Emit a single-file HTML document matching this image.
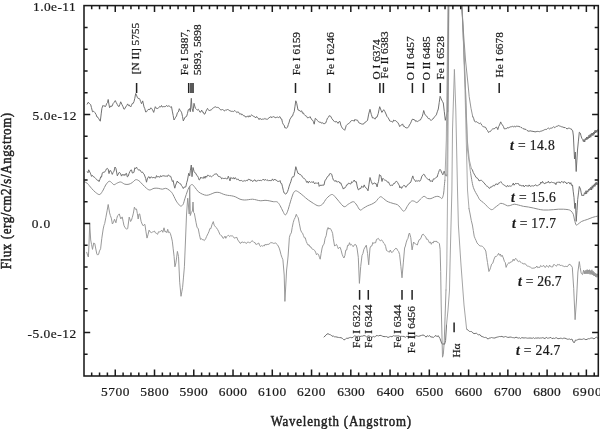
<!DOCTYPE html>
<html><head><meta charset="utf-8"><style>
html,body{margin:0;padding:0;background:#fff;}
svg{display:block;will-change:transform;filter:blur(0.35px);}
text{font-family:"Liberation Serif",serif;fill:#1a1a1a;stroke:#1a1a1a;stroke-width:0.22px;}
text.b{stroke-width:0.5px;fill:#222;stroke:#222;}
</style></head><body>
<svg width="600" height="429" viewBox="0 0 600 429">
<defs><filter id="bl" x="-5%" y="-5%" width="110%" height="110%"><feGaussianBlur stdDeviation="0.3"/></filter><clipPath id="c"><rect x="84" y="5.6" width="514.3" height="370.4"/></clipPath></defs>
<g clip-path="url(#c)"><g filter="url(#bl)" fill="none" stroke-linejoin="round" stroke-linecap="round">
<path d="M84.0,181.7C84.5,182.0 86.0,182.2 87.3,183.3C88.5,184.4 90.1,186.8 91.5,188.3C92.9,189.8 94.3,191.5 95.7,192.5C97.1,193.5 98.5,194.9 99.8,194.5C101.0,194.1 102.2,191.6 103.2,190.0C104.2,188.4 104.7,186.4 105.7,185.0C106.7,183.6 108.0,181.7 109.0,181.3C110.0,180.9 110.7,181.9 111.5,182.5C112.3,183.1 113.0,184.6 114.0,184.7C115.0,184.8 116.2,183.4 117.3,183.0C118.4,182.6 119.5,181.8 120.7,182.0C122.0,182.2 123.4,183.8 124.8,184.2C126.2,184.6 127.8,184.5 129.0,184.2C130.2,183.9 131.2,183.2 132.3,182.5C133.4,181.8 134.6,180.0 135.7,179.7C136.8,179.4 137.9,180.1 139.0,180.8C140.1,181.6 141.1,182.9 142.3,184.2C143.6,185.4 145.2,187.3 146.5,188.3C147.8,189.3 148.6,190.0 149.8,190.0C151.1,190.0 152.6,188.6 154.0,188.3C155.4,188.0 156.8,188.2 158.2,188.3C159.6,188.5 161.1,189.2 162.3,189.2C163.6,189.2 164.6,188.2 165.7,188.3C166.8,188.4 167.9,189.2 169.0,190.0C170.1,190.8 171.2,191.6 172.3,193.3C173.4,195.0 174.8,198.3 175.7,200.0C176.6,201.7 177.2,202.5 178.0,203.5C178.8,204.5 179.7,205.8 180.5,206.0C181.3,206.2 182.2,205.8 183.0,204.5C183.8,203.2 184.2,200.6 185.0,198.3C185.8,196.0 186.7,192.9 187.5,190.8C188.3,188.7 189.2,186.8 190.0,185.8C190.8,184.8 191.7,184.4 192.5,184.7C193.3,185.0 194.0,186.3 195.0,187.5C196.0,188.7 197.1,190.6 198.3,191.7C199.6,192.8 201.1,193.6 202.5,194.2C203.9,194.8 205.3,195.3 206.7,195.3C208.1,195.3 209.4,194.7 210.8,194.2C212.2,193.7 213.6,192.8 215.0,192.5C216.4,192.2 217.8,192.2 219.2,192.5C220.6,192.8 221.9,193.7 223.3,194.2C224.7,194.7 226.1,195.0 227.5,195.3C228.9,195.6 230.3,195.5 231.7,195.8C233.1,196.1 234.4,196.4 235.8,197.0C237.2,197.6 238.6,198.7 240.0,199.2C241.4,199.7 242.8,199.9 244.2,200.0C245.6,200.1 246.9,199.8 248.3,199.7C249.7,199.6 251.1,199.1 252.5,199.2C253.9,199.2 255.3,199.7 256.7,200.0C258.1,200.3 259.4,200.8 260.8,200.8C262.2,200.9 263.6,200.3 265.0,200.3C266.4,200.3 267.8,200.6 269.2,200.8C270.6,201.0 271.9,201.5 273.3,201.7C274.7,201.9 276.2,201.3 277.3,202.0C278.4,202.7 279.2,204.1 280.1,205.6C281.0,207.1 282.0,209.6 282.9,211.2C283.8,212.8 284.5,214.9 285.3,214.9C286.1,214.9 286.8,213.4 287.6,211.2C288.5,209.0 289.4,204.9 290.4,201.9C291.3,198.9 292.4,195.2 293.3,193.3C294.2,191.5 294.8,190.9 295.8,190.8C296.8,190.7 297.9,191.7 299.2,192.5C300.4,193.3 301.8,194.6 303.3,195.8C304.8,197.1 306.6,198.8 308.3,200.0C310.0,201.2 311.6,202.3 313.3,203.3C315.0,204.3 316.8,205.7 318.3,205.8C319.8,206.0 321.1,205.4 322.5,204.2C323.9,202.9 325.2,199.9 326.7,198.3C328.2,196.7 330.3,194.8 331.7,194.5C333.1,194.2 333.8,195.5 335.0,196.7C336.2,197.9 337.7,200.0 339.2,201.7C340.7,203.4 342.7,206.3 344.2,206.7C345.7,207.1 346.8,205.0 348.3,204.2C349.8,203.4 351.9,201.6 353.3,201.7C354.7,201.8 355.6,203.6 356.7,205.0C357.8,206.4 358.9,209.4 360.0,210.0C361.1,210.6 362.1,209.0 363.3,208.3C364.6,207.6 366.1,206.5 367.5,205.8C368.9,205.1 370.3,204.9 371.7,204.2C373.1,203.5 374.8,202.5 375.8,201.7C376.8,200.8 377.0,199.9 377.8,199.1C378.6,198.3 379.7,196.8 380.6,196.7C381.5,196.6 382.3,197.7 383.4,198.4C384.4,199.2 385.7,200.5 386.9,201.2C388.1,201.9 389.2,202.2 390.4,202.6C391.6,203.0 392.7,203.3 393.9,203.7C395.1,204.0 396.3,204.1 397.4,204.7C398.4,205.3 399.3,206.4 400.2,207.4C401.1,208.4 402.2,210.4 403.0,210.9C403.8,211.4 404.3,211.1 405.1,210.2C405.9,209.3 406.8,206.8 407.9,205.3C408.9,203.8 410.3,201.9 411.4,201.2C412.4,200.5 413.3,201.0 414.2,201.2C415.1,201.4 415.9,202.9 417.0,202.6C418.1,202.2 419.3,200.1 420.5,199.1C421.7,198.1 422.9,196.4 424.0,196.3C425.1,196.2 426.2,198.0 427.4,198.4C428.5,198.8 429.7,198.8 430.9,198.6C432.1,198.4 433.2,197.4 434.4,197.0C435.6,196.6 436.8,196.2 437.9,196.3C438.9,196.4 440.0,197.3 440.7,197.7C441.4,198.0 441.6,199.0 442.1,198.4C442.6,197.8 443.1,196.1 443.5,194.2C443.9,192.3 444.0,189.5 444.2,187.2C444.4,184.9 444.8,181.4 444.9,180.2M470.5,172.4C471.0,174.9 472.1,183.3 473.3,187.3C474.6,191.3 476.9,194.5 478.0,196.6C479.1,198.7 479.1,199.0 480.0,200.0C480.9,201.0 482.1,201.4 483.3,202.5C484.6,203.6 486.1,205.5 487.5,206.7C488.9,207.9 490.4,209.6 491.7,209.7C492.9,209.8 493.9,208.3 495.0,207.5C496.1,206.7 497.3,205.7 498.3,205.0C499.3,204.3 499.8,203.4 500.8,203.3C501.8,203.2 503.1,203.8 504.2,204.2C505.3,204.6 506.4,205.6 507.5,205.8C508.6,206.0 509.7,205.6 510.8,205.3C511.9,205.0 513.0,204.2 514.2,204.2C515.5,204.1 516.8,204.7 518.3,205.0C519.8,205.3 521.6,206.0 523.3,206.3C525.0,206.6 526.6,206.7 528.3,207.0C530.0,207.3 531.6,207.6 533.3,208.0C535.0,208.4 536.6,208.9 538.3,209.2C540.0,209.5 541.6,209.9 543.3,210.0C545.0,210.1 546.6,210.1 548.3,210.0C550.0,209.9 551.6,209.8 553.3,209.7C555.0,209.6 556.6,209.3 558.3,209.2C560.0,209.1 561.6,209.1 563.3,209.2C565.0,209.3 567.0,209.4 568.3,209.7C569.5,210.0 570.0,210.1 570.8,210.8C571.6,211.6 572.7,212.7 573.3,214.2C573.9,215.7 574.0,218.2 574.5,220.0C575.0,221.8 575.6,224.3 576.2,225.0C576.8,225.7 577.2,224.7 578.1,224.1C579.0,223.5 580.2,222.2 581.7,221.4C583.2,220.6 585.4,220.2 587.2,219.5C589.1,218.8 591.1,217.9 592.8,217.3C594.5,216.8 596.5,216.4 597.3,216.2" stroke="#8c8c8c" stroke-width="1.0"/>
<polyline points="86.7,252.3 87.8,255.9 88.4,257.0 89.0,244.0 89.7,224.0 90.7,240.0 91.6,244.7 92.5,249.4 93.7,243.0 94.8,243.6 96.0,250.0 96.8,253.9 97.7,255.1 98.6,254.2 99.5,250.9 100.6,248.8 101.8,238.3 103.2,229.0 104.0,225.3 104.7,223.5 105.9,217.3 107.1,210.8 108.2,204.5 109.6,212.9 110.4,215.6 111.3,218.1 112.4,224.0 113.5,222.2 114.5,219.2 115.9,222.8 116.8,218.4 117.6,215.7 118.4,215.1 119.3,213.9 120.0,216.4 120.8,218.9 122.2,216.9 123.1,221.2 123.9,225.2 125.0,227.7 126.0,228.6 126.8,229.1 127.7,228.6 129.2,217.1 130.6,221.5 131.4,220.3 132.3,217.4 133.4,213.1 134.4,207.1 135.4,209.3 136.5,209.0 137.3,213.3 138.2,219.0 138.9,214.2 139.7,213.9 141.1,221.3 142.1,224.0 143.2,225.8 144.1,224.7 144.9,224.4 145.9,231.2 147.0,238.1 148.1,234.3 149.1,230.1 150.3,232.1 151.6,232.6 152.5,232.0 153.5,231.6 154.4,231.0 155.4,232.8 156.5,233.3 157.5,234.4 158.6,231.7 159.6,231.9 160.6,231.5 161.7,230.1 162.8,232.3 164.0,227.8 165.1,232.0 166.0,231.3 166.8,232.7 167.7,229.3 168.6,232.6 169.4,232.0 170.3,233.4 171.3,236.8 172.3,241.2 173.2,248.8 174.1,256.5 174.9,266.8 175.9,262.9 176.7,257.1 177.4,251.4 178.5,256.5 179.7,282.2 181.0,296.3 181.8,291.8 182.6,287.3 183.5,277.1 184.4,266.8 185.5,240.0 186.5,215.0 187.7,198.2 188.5,206.0 189.2,214.0 189.7,186.0 190.3,215.5 191.3,212.5 192.4,211.0 193.0,202.0 193.6,212.5 194.3,213.1 195.2,217.9 196.0,222.3 197.1,227.6 198.2,228.4 199.3,234.2 200.5,239.4 201.4,238.6 202.2,239.7 203.1,239.5 204.3,240.6 205.6,238.8 206.5,236.7 207.3,235.0 208.2,233.3 209.1,231.2 209.9,228.5 210.8,228.7 212.1,224.3 213.3,221.6 214.2,225.3 215.0,226.1 215.9,227.4 216.8,228.2 217.6,229.5 218.5,231.2 219.8,234.2 221.0,235.6 222.0,236.1 223.1,238.4 224.1,237.7 225.0,236.1 225.8,238.3 226.7,236.6 227.6,235.7 228.6,235.3 229.6,236.6 230.5,235.8 231.5,235.9 232.4,235.9 233.4,236.7 234.4,238.2 235.7,237.6 236.9,237.4 237.9,240.4 239.0,241.3 240.0,243.2 240.9,243.2 241.9,241.9 242.8,242.2 243.8,242.6 244.7,242.0 245.6,243.1 246.6,243.4 247.5,242.1 248.4,242.2 249.4,242.7 250.3,242.7 251.2,241.5 252.1,240.7 253.0,241.3 254.0,242.5 254.9,242.5 255.8,244.3 256.8,244.3 257.8,243.6 258.7,243.0 259.6,245.2 260.5,246.6 261.5,245.6 262.4,246.2 263.3,245.6 264.2,246.0 265.2,244.2 266.1,245.2 267.1,244.0 268.0,244.8 268.9,244.0 269.9,243.6 270.8,242.4 271.8,242.8 272.7,242.9 273.6,243.4 274.5,243.3 275.5,242.8 276.4,243.9 277.3,244.6 278.2,246.0 279.2,248.1 280.1,251.0 281.0,254.7 281.9,257.3 282.9,259.7 284.2,275.0 284.9,301.4 285.8,285.0 286.6,270.0 287.4,263.0 288.1,256.0 289.4,237.3 290.4,234.2 291.3,232.9 292.2,227.6 293.2,222.7 294.1,219.7 295.2,217.5 296.3,214.3 297.2,216.4 298.2,217.7 299.4,223.8 300.6,229.9 301.6,232.2 302.5,233.1 303.4,235.4 304.4,237.9 305.3,237.8 306.2,241.3 307.2,243.5 308.1,245.2 309.0,244.7 310.0,246.9 310.9,246.9 311.8,248.7 312.8,249.3 313.7,249.6 314.6,250.4 315.6,252.1 316.5,254.8 317.6,253.6 318.7,254.9 319.4,257.3 320.2,259.2 321.1,253.6 322.1,248.0 323.1,245.0 324.0,244.3 325.1,238.3 326.2,235.7 327.1,230.0 328.1,227.5 328.9,229.2 329.6,228.0 330.7,229.1 331.8,231.2 332.6,233.4 333.3,238.7 334.6,246.1 335.6,245.1 336.5,244.4 337.4,246.4 338.3,248.7 339.2,247.6 340.2,247.4 341.1,250.2 342.1,254.2 343.0,256.4 343.9,258.0 344.9,255.5 345.8,250.1 346.7,250.0 347.6,245.3 348.6,245.5 349.5,242.7 350.4,245.1 351.4,244.4 352.3,245.5 353.2,246.7 354.1,245.1 355.1,244.4 356.1,245.0 357.0,248.0 358.3,257.3 359.4,283.4 360.7,266.6 362.0,255.4 362.9,253.6 363.9,249.3 365.1,247.1 366.3,245.2 367.6,253.6 368.7,264.8 370.0,248.0 370.9,246.1 371.9,245.9 372.9,242.4 373.8,243.5 374.7,242.5 375.6,242.8 376.5,239.4 377.5,238.9 378.4,238.4 379.4,239.9 380.3,240.9 381.6,239.9 382.8,241.5 383.8,243.3 384.7,244.1 385.6,246.4 386.5,250.5 387.4,251.0 388.4,251.6 389.4,252.2 390.3,250.0 391.2,252.1 392.1,252.6 393.1,251.2 394.0,250.3 394.9,249.1 395.9,248.2 396.8,248.7 397.7,250.5 398.6,251.5 399.6,254.5 400.9,266.6 402.0,277.8 403.3,262.9 404.6,248.0 405.4,246.0 406.1,242.9 407.1,239.8 408.0,238.3 408.8,234.2 409.5,233.0 410.8,237.7 412.1,249.9 412.9,245.5 413.6,242.0 414.5,243.1 415.4,244.0 416.4,244.5 417.3,245.0 418.2,242.2 419.2,239.7 420.1,239.5 421.0,237.9 422.1,234.8 423.3,234.2 424.5,235.7 425.7,236.9 426.6,239.3 427.6,239.2 428.5,240.8 429.4,242.8 430.4,242.1 431.3,244.3 432.2,242.3 433.2,243.0 434.1,240.9 435.0,241.9 436.0,240.9 436.9,242.1 437.9,242.2 438.6,242.9 439.4,243.7 440.1,249.3 440.7,271.6 441.2,305.0 442.5,357.2 443.3,354.6 444.2,342.4 445.1,316.2 446.0,290.0" stroke="#939393" stroke-width="0.95"/>
<polyline points="469.0,208.6 470.1,214.0 471.3,220.6 472.4,225.0 473.3,230.6 474.2,236.2 475.1,238.5 476.1,240.6 477.0,242.9 478.0,244.1 478.9,244.9 479.8,245.9 480.7,246.0 481.6,246.1 482.6,246.5 483.5,247.4 484.6,249.0 485.8,251.0 486.6,256.8 487.5,262.6 488.9,271.5 489.7,270.1 490.5,267.8 491.6,264.1 492.8,263.2 494.0,259.2 495.2,256.5 496.3,256.4 497.5,255.3 498.6,253.3 499.5,255.3 500.4,254.0 501.2,256.5 502.1,255.2 503.3,257.9 504.5,261.7 505.3,262.6 506.1,267.4 507.1,264.9 508.0,263.5 508.9,262.7 509.8,263.2 510.6,261.9 511.5,261.8 512.4,261.4 513.2,259.2 514.1,260.8 515.0,259.0 515.9,258.4 516.8,259.6 517.6,261.1 518.5,261.6 519.4,260.8 520.2,261.9 521.1,262.4 522.0,263.4 522.9,263.1 523.8,264.3 524.8,263.5 525.7,264.1 526.6,265.6 527.5,266.1 528.5,266.0 529.4,266.9 530.4,267.1 531.3,267.9 532.2,268.3 533.1,268.0 534.1,268.3 535.0,267.5 535.9,267.5 536.8,266.0 537.8,267.8 538.7,267.3 539.7,267.5 540.6,265.5 541.6,266.4 542.6,266.3 543.6,265.3 544.6,267.1 545.6,267.3 546.6,265.4 547.6,266.5 548.6,267.3 549.6,265.1 550.6,266.6 551.6,266.9 552.6,267.0 553.6,264.6 554.6,264.7 555.6,265.6 556.5,266.2 557.5,264.4 558.5,264.7 559.4,264.4 560.4,265.9 561.4,264.9 562.3,265.9 563.3,266.1 564.3,266.6 565.2,266.3 566.2,266.4 567.1,266.7 568.1,265.9 569.0,264.3 570.0,264.5 570.9,265.2 572.3,267.3 573.7,288.3 575.1,319.7 576.5,300.0 577.9,272.0 579.3,261.6 580.2,267.5 581.2,273.3 582.5,274.6 583.7,270.0 584.3,273.9 584.9,271.0 585.5,273.7 586.0,270.0 586.6,273.7 587.2,269.6 587.8,273.9 588.4,270.1 589.0,273.9 589.5,269.7 590.1,274.4 590.7,270.6 591.3,274.3 591.9,269.8 592.4,274.8 593.0,271.0 593.5,275.5 594.0,272.0 594.6,276.0 595.2,273.1 595.8,277.0 596.3,273.8 596.9,277.3 597.5,274.1" stroke="#939393" stroke-width="0.95"/>
<polyline points="324.0,337.0 325.0,336.0 326.0,335.2 327.0,334.0 328.0,333.7 329.2,334.4 330.5,334.7 332.0,336.2 333.5,336.1 334.7,336.9 335.8,336.8 337.0,337.1 338.3,337.4 339.7,337.6 341.0,337.7 342.3,338.3 343.7,339.7 345.0,339.7 346.5,338.1 348.0,338.4 349.3,337.7 350.7,337.4 352.0,337.9 353.3,336.9 354.7,335.8 356.0,336.4 357.3,336.4 358.7,336.2 360.0,336.5 361.3,336.2 362.7,336.1 364.0,335.5 365.3,335.9 366.7,336.9 368.0,335.9 369.3,336.1 370.7,336.6 372.0,337.4 373.3,336.4 374.7,337.1 376.0,335.7 377.3,335.6 378.7,335.9 380.0,335.3 381.3,335.6 382.7,336.3 384.0,336.6 385.3,336.6 386.7,336.6 388.0,337.5 389.3,336.9 390.7,336.4 392.0,336.8 393.3,335.7 394.7,336.0 396.0,336.0 397.3,335.9 398.7,335.8 400.0,336.5 401.3,336.3 402.7,336.4 404.0,336.4 405.3,337.3 406.7,336.3 408.0,336.8 409.3,336.8 410.7,336.8 412.0,337.6 413.3,337.1 414.7,336.7 416.0,335.7 417.3,336.1 418.7,336.3 420.0,335.9 421.5,335.4 423.0,335.0 424.5,335.5 426.0,337.2 427.2,335.7 428.4,336.4 429.6,335.5 430.8,337.1 432.0,336.9 433.3,337.5 434.7,336.3 436.0,335.4 437.1,336.8 438.1,335.6 439.9,338.3 441.6,343.1 442.8,344.4 443.7,343.9 444.6,344.2 445.6,340.6 446.5,325.0" stroke="#707070" stroke-width="1.0"/>
<polyline points="466.6,329.0 468.2,330.3 469.4,331.4 470.5,331.5 471.7,331.6 472.8,332.9 474.0,333.6 475.1,333.5 476.3,333.2 477.5,334.0 478.6,335.1 479.8,334.5 481.0,336.1 482.1,336.5 483.3,337.0 484.5,337.5 485.6,337.4 486.8,337.9 488.0,339.2 489.1,338.1 490.3,338.0 491.5,337.5 492.6,337.8 493.8,338.0 495.0,338.0 496.1,337.4 497.3,337.1 498.5,336.8 499.6,336.5 500.8,336.6 502.0,336.3 503.1,337.1 504.3,336.9 505.4,336.5 506.6,336.9 507.8,337.4 509.0,337.3 510.1,337.0 511.3,337.2 512.5,337.6 513.6,337.7 514.8,337.9 516.0,337.1 517.2,337.7 518.3,338.1 519.5,337.8 520.6,338.5 521.8,337.6 523.0,337.9 524.1,338.0 525.3,337.8 526.5,338.0 527.6,338.2 528.8,338.1 530.0,338.0 531.1,338.1 532.3,338.3 533.4,337.7 534.6,338.5 535.8,337.9 536.9,338.2 538.1,337.8 539.2,338.2 540.4,338.0 541.6,338.0 542.7,337.7 543.9,338.1 545.1,338.7 546.2,337.2 547.4,338.2 548.5,338.1 549.7,337.8 550.9,337.4 552.0,338.7 553.2,338.1 554.4,338.5 555.6,337.9 556.7,337.8 557.9,338.7 559.1,338.6 560.2,338.2 561.4,338.3 562.6,338.7 563.8,338.1 564.9,338.2 566.1,338.6 567.2,339.2 568.4,339.2 569.6,339.0 570.7,339.6 571.9,339.0 573.5,342.4 574.5,342.5 575.4,340.1 576.6,340.2 577.7,339.7 578.9,339.2 580.1,339.2 581.2,339.4 582.4,339.3 583.6,338.8 584.7,339.1 585.9,339.7 587.1,339.3 588.2,338.7 589.4,338.8 590.6,338.2 591.7,338.0 592.9,338.2 594.0,339.0 595.2,337.9 596.4,337.2 597.5,338.0" stroke="#707070" stroke-width="1.0"/>
<polyline points="446.5,325.0 448.0,310.0 449.5,290.0 450.0,265.0 451.9,190.0 452.5,130.0 454.4,69.4 455.8,110.0 457.5,190.0 458.4,225.0 461.0,265.0 464.0,305.0 466.6,329.0" stroke="#9a9a9a" stroke-width="0.9"/>
<polyline points="446.0,290.0 446.8,265.0 447.6,190.0 448.3,100.0 448.8,5.6 462.2,5.6 465.0,90.0 467.5,190.0 469.0,208.6" stroke="#a0a0a0" stroke-width="0.9"/>
<polyline points="87.3,171.7 88.0,172.8 88.7,169.8 89.8,172.0 90.7,173.9 91.5,176.4 92.3,175.3 93.2,176.6 94.0,176.9 94.8,177.5 95.7,178.5 96.5,179.6 97.3,180.2 98.2,180.2 99.0,181.6 99.8,179.8 100.7,176.8 101.5,177.1 102.3,173.0 103.1,172.2 104.0,172.4 104.8,171.9 105.6,170.6 106.5,168.8 107.3,168.4 108.2,169.2 109.0,173.6 109.8,170.7 110.7,170.6 111.5,172.5 112.3,174.4 113.2,172.3 114.0,171.2 115.0,167.0 116.0,168.7 117.3,175.8 118.3,174.0 119.3,172.3 120.4,173.3 121.5,176.1 122.3,174.4 123.2,175.4 124.0,174.2 124.8,175.5 125.7,173.7 126.5,173.4 127.3,176.9 128.2,176.2 129.0,173.6 129.8,171.7 130.7,170.1 131.5,169.9 132.3,173.0 133.2,173.0 134.0,172.1 134.8,167.8 135.6,168.6 136.5,167.1 137.3,168.7 138.2,169.8 139.0,170.3 139.8,169.8 140.7,171.2 141.5,172.4 142.3,171.9 143.2,173.2 144.0,174.0 144.8,176.0 145.7,178.5 146.5,182.2 147.3,178.9 148.2,177.2 149.0,176.6 149.9,178.4 150.7,177.2 151.5,176.8 152.3,177.9 153.2,177.5 154.0,177.5 154.8,177.8 155.7,178.1 156.5,175.6 157.3,176.9 158.2,176.7 159.0,176.6 159.8,177.3 160.7,175.6 161.5,176.8 162.4,175.8 163.2,175.8 164.0,175.8 164.9,176.1 165.7,176.2 166.5,176.1 167.4,176.5 168.2,174.9 169.0,175.6 169.9,176.2 170.7,176.3 171.5,178.7 172.4,181.5 173.2,180.6 174.0,185.2 174.8,188.2 175.6,185.1 176.5,183.0 177.3,181.0 178.1,182.5 179.0,182.6 179.8,183.7 180.7,183.9 181.5,185.6 182.4,186.7 183.3,188.5 184.1,187.1 185.0,187.1 185.8,186.9 186.7,182.7 187.5,180.0 188.7,173.3 189.7,175.8 190.3,170.8 191.3,165.0 192.0,176.7 193.0,167.5 194.2,171.8 195.0,172.9 195.8,173.3 196.7,175.2 197.5,176.0 198.3,177.4 199.2,180.0 200.0,179.3 200.8,177.1 201.6,178.0 202.5,177.9 203.3,178.4 204.1,176.5 205.0,178.3 205.8,176.0 206.6,177.2 207.5,175.2 208.3,175.3 209.1,176.2 210.0,176.1 210.8,176.1 211.6,176.8 212.5,176.1 213.3,175.3 214.2,174.5 215.0,174.0 215.8,174.0 216.7,173.8 217.5,175.0 218.3,176.4 219.2,176.5 220.0,176.9 220.8,177.2 221.7,178.9 222.5,178.2 223.3,178.5 224.2,178.4 225.0,178.6 225.8,178.2 226.7,178.9 227.5,178.8 228.3,176.2 229.2,178.4 230.0,180.9 230.8,177.4 231.7,178.2 232.5,178.6 233.3,177.5 234.2,179.1 235.0,177.6 235.8,178.2 236.7,179.6 237.5,179.3 238.3,179.2 239.2,180.6 240.0,180.5 240.8,180.6 241.7,180.5 242.5,181.2 243.3,181.2 244.2,180.5 245.0,181.2 245.8,180.8 246.7,180.4 247.5,180.7 248.3,179.2 249.2,179.7 250.0,179.3 250.8,180.8 251.7,180.2 252.5,181.5 253.3,181.2 254.2,180.0 255.0,179.8 255.8,181.3 256.7,181.1 257.5,180.9 258.4,179.9 259.2,180.8 260.0,180.1 260.8,180.5 261.6,180.6 262.5,179.9 263.3,179.1 264.1,180.3 265.0,179.8 265.9,179.6 266.7,180.4 267.5,179.8 268.4,181.1 269.2,180.3 270.0,180.8 270.8,180.5 271.6,180.6 272.5,178.9 273.3,180.5 274.1,179.9 275.0,179.1 275.9,180.4 276.7,180.3 277.5,181.4 278.4,181.4 279.2,181.5 280.0,180.5 280.9,183.4 281.7,183.6 282.5,186.8 283.3,190.3 284.1,193.0 285.0,193.5 285.8,194.2 286.7,193.1 287.5,191.7 288.3,189.4 289.2,186.1 290.0,183.8 290.8,181.8 291.7,178.5 292.5,176.8 293.4,177.0 294.2,175.8 295.0,171.2 295.8,166.7 297.0,170.6 298.0,173.5 299.0,173.5 300.0,174.9 300.8,174.7 301.7,175.6 302.5,177.3 303.3,178.0 304.2,178.3 305.0,179.2 305.8,180.4 306.7,182.4 307.5,181.3 308.3,183.1 309.2,181.3 310.0,181.8 310.8,182.6 311.6,181.7 312.5,182.4 313.3,181.5 314.1,183.2 315.0,183.8 315.9,182.6 316.7,183.4 317.5,183.3 318.4,182.4 319.2,186.4 320.0,185.2 321.0,185.4 322.0,185.2 323.0,185.1 324.0,185.1 325.0,180.3 325.8,179.8 326.7,178.1 327.5,176.5 328.6,176.0 329.7,173.7 330.7,173.6 331.7,174.2 332.5,177.4 333.3,179.9 334.1,180.3 335.0,181.5 335.8,180.4 336.6,181.8 337.5,181.9 338.3,181.6 339.1,181.7 340.0,183.4 340.8,182.8 341.6,185.2 342.5,186.8 343.3,189.1 344.2,188.0 345.0,187.9 345.9,186.5 346.7,184.8 347.5,184.8 348.4,183.2 349.2,183.3 350.0,184.0 350.9,183.9 351.7,181.7 352.5,182.3 353.4,181.5 354.2,180.0 355.2,181.9 356.3,181.7 357.3,186.9 358.3,189.8 359.1,189.6 360.0,188.1 360.8,188.5 361.7,186.1 362.5,186.9 363.4,187.3 364.2,184.9 365.0,186.9 365.8,187.8 366.9,188.6 368.0,190.8 369.0,184.2 370.0,177.5 371.3,181.6 372.5,184.3 373.3,183.9 374.2,182.8 375.0,183.6 376.1,183.6 377.1,186.9 377.8,183.5 378.5,181.6 379.5,174.6 380.2,175.5 380.9,175.7 382.0,181.5 382.9,178.3 383.7,179.2 384.6,180.0 385.5,180.3 386.6,180.8 387.6,182.3 388.5,182.0 389.5,184.2 390.4,185.7 391.4,185.2 392.5,185.5 393.6,183.5 394.6,183.5 395.6,181.7 396.7,181.3 397.6,182.5 398.5,184.2 399.2,185.2 399.9,187.9 400.8,186.7 401.6,188.4 402.6,186.7 403.7,185.4 404.8,185.7 405.8,187.3 406.9,185.5 407.9,184.9 408.9,183.5 410.0,183.0 410.8,182.0 411.6,179.4 412.8,175.9 413.5,178.5 414.2,179.7 415.0,180.2 415.8,181.7 416.8,180.4 417.7,181.2 418.8,180.6 419.8,181.3 420.9,179.4 421.9,176.1 422.8,175.1 423.7,174.2 424.5,174.7 425.3,176.7 426.4,177.6 427.4,178.8 428.3,179.8 429.3,179.0 430.2,181.4 431.2,180.5 432.3,181.9 433.4,178.9 434.4,178.9 435.3,178.4 436.3,177.2 437.2,177.0 437.9,174.4 438.6,172.4 439.3,170.4 440.0,169.3 440.7,170.1 441.4,172.0 442.1,173.3 442.8,174.8 443.5,173.3 444.2,171.1 444.9,173.6 445.6,175.6 446.8,175.1" stroke="#6a6a6a" stroke-width="0.95"/>
<polyline points="471.4,168.7 472.3,169.7 473.3,172.5 474.2,174.1 475.2,175.8 476.2,177.6 477.1,178.0 478.1,178.8 479.0,180.9 480.0,180.5 480.8,180.3 481.6,180.4 482.5,181.2 483.3,182.1 484.1,183.0 485.0,184.0 485.9,185.3 486.7,186.0 487.7,186.4 488.7,187.8 489.7,188.4 490.6,186.9 491.6,187.1 492.5,185.9 493.3,185.3 494.1,186.2 495.0,185.1 495.8,183.9 496.6,183.9 497.5,185.0 498.3,183.2 499.1,183.1 500.0,182.4 500.8,181.6 501.6,183.1 502.5,183.9 503.3,184.5 504.2,185.2 505.0,185.6 505.8,186.3 506.7,186.8 507.5,185.3 508.3,186.5 509.2,185.8 510.0,186.3 510.8,186.1 511.6,185.8 512.5,185.0 513.3,183.1 514.1,185.2 515.0,183.9 515.9,183.3 516.7,183.7 517.5,183.5 518.4,183.5 519.2,185.1 520.0,185.6 520.8,185.0 521.6,186.1 522.5,185.9 523.3,185.1 524.1,186.9 525.0,186.0 525.8,185.1 526.6,186.1 527.5,185.9 528.3,186.4 529.1,184.9 530.0,186.3 530.8,186.2 531.6,185.9 532.5,185.8 533.3,186.1 534.1,185.7 535.0,185.3 535.8,184.7 536.6,185.8 537.5,185.7 538.3,185.2 539.1,184.6 540.0,184.5 540.9,182.0 541.7,183.2 542.5,181.4 543.4,183.0 544.2,183.4 545.0,183.9 545.9,182.3 546.7,182.8 547.5,182.5 548.4,181.2 549.2,183.0 550.0,182.5 550.9,182.6 551.7,182.0 552.5,182.5 553.4,182.6 554.2,183.3 555.0,182.7 555.9,184.7 556.7,182.3 557.5,182.3 558.4,182.3 559.2,181.8 560.0,183.1 560.9,182.5 561.7,181.3 562.5,182.2 563.4,182.9 564.2,181.4 565.0,182.5 565.9,182.3 566.7,183.9 567.5,182.9 568.3,182.5 569.2,182.5 570.0,184.1 570.8,182.7 571.6,185.4 572.5,185.0 573.2,191.2 574.0,197.5 574.8,208.5 575.5,203.0 576.2,221.4 577.0,210.4 577.7,199.4 578.5,192.9 579.3,186.5 580.5,189.1 581.2,192.9 582.0,195.9 582.9,194.9 583.7,195.7 584.5,192.7 585.4,194.1 586.0,190.8 586.6,193.7 587.2,190.7 587.9,192.1 588.5,189.3 589.1,190.5 589.7,188.5 590.3,189.9 591.0,187.0 591.6,190.0 592.2,185.8 592.8,188.3 593.4,184.9 593.9,186.7 594.5,183.8 595.0,186.3 595.6,182.7 596.1,185.0 596.7,182.3 597.5,184.3" stroke="#6a6a6a" stroke-width="0.95"/>
<polyline points="87.2,104.1 88.3,102.2 89.0,103.4 89.7,103.7 90.7,104.7 91.4,107.4 92.5,111.8 93.2,111.4 93.9,111.4 94.9,112.6 96.0,114.3 97.0,117.0 97.9,117.3 98.8,118.8 99.5,120.0 100.3,121.2 101.2,113.9 101.9,108.3 103.0,105.4 103.7,106.1 104.4,105.7 105.1,106.8 105.8,105.9 106.8,103.3 107.5,102.6 108.2,99.5 108.9,104.1 109.6,107.7 110.7,106.0 112.0,106.3 113.2,103.4 114.2,102.3 115.3,100.6 116.3,102.7 117.3,104.5 118.2,106.1 119.0,106.7 119.8,104.6 120.7,101.8 122.0,104.7 123.0,106.7 124.0,109.3 124.8,108.7 125.7,107.0 126.7,105.6 127.7,103.9 128.5,105.6 129.3,105.0 130.0,106.2 130.7,107.0 131.5,105.3 132.3,103.4 133.2,103.4 134.0,101.5 134.8,98.3 135.7,93.5 136.5,95.2 137.3,97.3 138.1,98.5 139.0,98.2 139.8,99.3 140.7,101.6 141.5,103.7 142.7,100.9 144.0,106.9 144.8,108.7 145.7,112.0 146.5,111.8 147.3,110.6 148.1,109.5 149.0,109.4 149.8,109.6 150.7,107.9 151.5,108.3 152.6,109.9 153.7,112.4 154.5,109.5 155.3,106.7 156.3,108.3 157.3,108.5 158.1,108.4 159.0,107.2 159.8,106.5 160.6,107.0 161.5,105.5 162.3,107.0 163.2,107.0 164.0,106.2 164.8,107.0 165.7,106.4 166.5,105.4 167.3,106.4 168.2,105.9 169.0,106.0 169.8,106.4 170.7,107.2 171.5,106.7 172.3,111.1 173.2,115.6 174.0,120.0 174.8,118.7 175.7,117.2 176.5,116.0 177.4,112.7 178.4,112.0 179.3,108.7 180.0,110.2 180.8,111.1 181.7,112.8 182.5,116.5 183.3,120.9 184.2,119.1 185.0,117.2 185.8,117.0 186.7,116.1 187.5,113.3 188.3,109.7 189.0,110.0 189.7,108.5 190.3,111.7 191.3,98.3 192.0,108.3 193.0,111.7 194.0,103.3 195.3,108.1 196.0,108.7 196.7,109.6 197.5,110.0 198.3,109.3 199.2,110.7 200.0,112.3 200.8,111.8 201.7,110.1 202.5,112.2 203.4,112.2 204.2,114.2 205.0,113.9 205.8,111.6 206.7,109.8 207.5,108.4 208.3,109.6 209.2,110.8 210.0,109.9 210.9,110.3 211.7,109.6 212.5,108.4 213.3,107.9 214.2,107.4 215.0,106.8 215.8,106.9 216.7,107.5 217.5,107.4 218.3,107.5 219.2,108.2 220.0,109.4 220.8,109.8 221.7,109.8 222.5,109.5 223.3,110.0 224.2,110.8 225.0,110.7 225.8,109.7 226.7,110.1 227.5,109.5 228.3,109.7 229.2,110.5 230.0,110.6 230.8,111.2 231.7,111.4 232.5,111.3 233.4,111.6 234.2,110.8 235.0,110.6 235.9,111.5 236.7,112.6 237.5,112.1 238.3,111.9 239.2,113.2 240.0,114.4 240.8,113.5 241.7,114.8 242.5,114.4 243.3,115.6 244.2,115.8 245.0,116.0 245.8,117.3 246.7,116.5 247.5,116.1 248.4,117.2 249.2,115.6 250.0,116.9 250.9,115.5 251.7,114.8 252.5,115.7 253.3,116.2 254.2,116.7 255.0,116.9 255.8,117.9 256.6,116.5 257.5,117.7 258.3,118.2 259.1,119.6 260.0,118.2 260.9,119.4 261.7,119.4 262.5,119.1 263.4,119.2 264.2,118.5 265.0,119.3 265.9,118.6 266.7,119.3 267.5,119.2 268.4,118.6 269.2,117.4 270.0,117.6 270.8,116.5 271.6,117.8 272.5,116.9 273.3,116.6 274.1,117.0 275.0,117.4 275.9,117.9 276.7,117.1 277.5,117.1 278.4,117.6 279.2,117.0 280.0,116.7 280.9,118.8 281.7,119.0 282.5,122.7 283.3,124.5 284.1,125.1 285.0,128.1 285.8,127.7 286.7,128.1 287.5,127.3 288.3,124.6 289.2,122.1 290.0,119.0 290.8,118.1 291.7,116.3 292.5,116.1 293.4,113.3 294.2,111.7 295.0,106.2 295.8,100.8 296.7,103.3 298.0,110.0 299.0,110.2 300.0,111.1 300.9,111.5 301.7,110.8 302.5,113.2 303.4,112.9 304.2,114.5 305.0,115.5 305.8,115.8 306.7,116.4 307.5,117.9 308.3,117.6 309.2,117.6 310.0,116.6 310.8,118.0 311.7,119.7 312.5,120.1 313.4,121.6 314.2,124.2 315.3,118.3 316.4,119.2 317.5,120.6 318.3,121.6 319.1,121.8 320.0,122.6 320.8,122.1 321.6,123.3 322.5,122.8 323.3,123.2 324.1,124.1 325.0,123.1 325.8,122.9 326.6,120.5 327.5,118.1 328.4,117.4 329.2,115.7 330.0,116.0 330.8,116.4 331.9,118.7 333.0,120.0 334.0,121.2 335.0,122.2 335.9,121.4 336.7,121.6 338.0,123.4 339.2,121.5 340.0,121.5 340.8,125.1 341.6,126.8 342.5,128.5 343.6,129.2 344.7,130.3 345.5,127.9 346.3,125.4 347.3,124.4 348.3,123.7 349.1,123.4 350.0,122.2 350.9,121.1 351.7,120.5 352.5,120.5 353.4,120.6 354.2,121.3 355.0,119.3 355.8,120.2 356.7,120.0 357.5,120.2 358.4,121.9 359.2,123.1 360.0,123.2 360.9,123.7 361.7,124.0 362.5,124.1 363.4,124.2 364.2,122.9 365.0,122.6 365.9,121.9 366.7,120.9 367.5,120.5 368.7,114.1 370.0,109.3 371.3,114.4 372.5,118.0 373.3,117.8 374.2,118.2 375.0,119.2 376.0,117.2 377.0,117.2 378.3,113.3 379.0,109.7 379.7,106.7 381.0,110.2 381.9,112.4 382.8,111.0 383.7,109.7 385.0,111.8 386.0,114.0 387.0,116.5 387.9,117.5 388.8,118.9 389.7,120.9 390.7,121.3 391.7,121.5 392.7,122.2 393.7,120.0 394.7,120.7 395.7,120.6 396.7,121.8 397.7,122.4 398.7,124.1 399.7,126.6 400.7,125.4 401.7,124.9 402.6,123.9 403.4,126.2 404.3,126.2 405.1,127.4 406.0,127.7 406.9,128.0 407.7,127.8 408.6,126.8 409.4,125.0 410.3,123.8 411.2,121.8 412.1,119.5 413.0,119.1 414.0,119.9 415.0,120.0 415.9,121.7 416.8,120.8 417.7,121.6 418.6,120.8 419.4,120.3 420.3,120.1 421.3,118.3 422.3,116.3 423.0,113.6 423.7,110.5 424.7,113.9 425.7,115.5 426.6,116.0 427.4,117.2 428.3,118.6 429.2,118.5 430.1,119.3 431.0,120.6 431.9,119.6 432.8,119.1 433.7,118.0 434.6,116.8 435.4,115.9 436.3,114.9 437.3,111.8 438.3,109.0 439.2,102.7 440.1,96.3 440.9,98.2 441.7,100.0 442.5,101.6 443.3,103.0 444.3,111.7 445.3,120.3 446.3,116.5 447.0,113.6 447.7,111.1" stroke="#6a6a6a" stroke-width="0.95"/>
<polyline points="472.7,116.5 473.6,118.3 474.5,121.3 475.3,121.9 476.0,121.7 476.8,121.8 477.7,122.6 478.6,123.1 479.4,123.6 480.3,123.0 481.1,123.7 481.8,125.3 482.6,126.0 483.4,126.8 484.2,127.0 485.0,127.0 485.9,127.7 486.7,129.7 487.6,130.6 488.5,132.5 489.4,131.7 490.2,131.6 491.0,130.8 491.7,129.7 492.5,129.0 493.3,128.8 494.1,128.7 494.9,128.5 496.0,127.1 496.9,127.4 497.8,129.6 498.6,126.7 499.5,125.1 500.7,121.9 501.5,123.9 502.4,124.9 503.4,126.5 504.3,128.9 505.3,128.7 506.2,128.8 507.1,127.7 508.0,127.9 508.9,127.8 509.8,127.1 510.7,126.8 511.6,126.7 512.4,126.3 513.3,126.9 514.3,126.2 515.3,127.1 516.3,126.0 517.3,126.3 518.2,126.2 519.1,126.8 520.0,126.5 521.0,127.6 522.0,127.7 523.0,128.7 524.0,128.9 525.0,129.3 526.0,129.4 527.0,130.5 528.0,130.9 529.0,131.4 530.0,130.7 531.0,131.1 532.0,131.2 533.0,131.4 534.0,131.6 535.0,131.8 536.0,131.8 536.9,131.4 537.8,131.4 538.7,131.5 539.7,131.7 540.7,131.2 541.7,131.0 542.7,130.6 543.7,130.2 544.7,129.6 545.7,129.4 546.7,129.4 547.7,128.4 548.7,128.1 549.7,129.0 550.7,128.1 551.7,128.1 552.7,127.7 553.7,126.6 554.7,127.7 555.5,127.2 556.4,126.3 557.2,126.3 558.0,125.8 558.8,125.5 559.6,126.0 560.5,126.3 561.3,126.7 562.2,126.9 563.1,127.0 564.0,127.8 565.0,127.3 566.0,128.3 567.0,128.8 568.0,128.6 568.8,128.0 569.6,128.3 570.5,128.8 571.3,128.9 572.0,130.3 572.7,130.7 573.4,136.0 574.5,159.0 575.3,152.0 576.2,171.5 577.5,150.0 578.4,141.1 579.3,132.2 580.3,133.1 581.0,135.8 581.8,138.3 582.6,139.4 583.4,141.6 584.0,139.4 584.7,142.0 585.4,138.5 586.0,140.0 586.6,137.1 587.2,139.4 587.8,136.9 588.4,138.5 589.0,135.2 589.6,137.9 590.2,134.4 590.8,137.2 591.4,133.4 592.0,135.7 592.6,133.0 593.1,135.4 593.7,132.1 594.3,134.2 594.9,130.5 595.4,133.0 596.0,130.0 596.8,132.4 597.5,129.9" stroke="#6a6a6a" stroke-width="0.95"/>
<polyline points="444.9,180.2 446.3,140.0 448.0,5.6 462.0,5.6 465.5,90.0 467.5,150.0 470.5,172.4" stroke="#a0a0a0" stroke-width="0.9"/>
<polyline points="446.8,176.1 447.5,120.0 448.3,5.6 462.0,5.6 465.5,90.0 467.3,140.0 469.3,160.0 471.4,168.7" stroke="#9a9a9a" stroke-width="0.9"/>
<polyline points="447.7,111.7 448.3,50.0 448.7,5.6 461.5,5.6 465.5,60.0 468.1,85.0 469.2,96.7 471.0,108.3 472.7,116.5" stroke="#8a8a8a" stroke-width="0.9"/>
</g></g>
<path d="M91.69 376.0v-3.6M91.69 5.6v3.6M99.55 376.0v-3.6M99.55 5.6v3.6M107.40 376.0v-3.6M107.40 5.6v3.6M115.25 376.0v-6.5M115.25 5.6v6.5M123.10 376.0v-3.6M123.10 5.6v3.6M130.95 376.0v-3.6M130.95 5.6v3.6M138.81 376.0v-3.6M138.81 5.6v3.6M146.66 376.0v-3.6M146.66 5.6v3.6M154.51 376.0v-6.5M154.51 5.6v6.5M162.36 376.0v-3.6M162.36 5.6v3.6M170.21 376.0v-3.6M170.21 5.6v3.6M178.07 376.0v-3.6M178.07 5.6v3.6M185.92 376.0v-3.6M185.92 5.6v3.6M193.77 376.0v-6.5M193.77 5.6v6.5M201.62 376.0v-3.6M201.62 5.6v3.6M209.47 376.0v-3.6M209.47 5.6v3.6M217.33 376.0v-3.6M217.33 5.6v3.6M225.18 376.0v-3.6M225.18 5.6v3.6M233.03 376.0v-6.5M233.03 5.6v6.5M240.88 376.0v-3.6M240.88 5.6v3.6M248.73 376.0v-3.6M248.73 5.6v3.6M256.59 376.0v-3.6M256.59 5.6v3.6M264.44 376.0v-3.6M264.44 5.6v3.6M272.29 376.0v-6.5M272.29 5.6v6.5M280.14 376.0v-3.6M280.14 5.6v3.6M287.99 376.0v-3.6M287.99 5.6v3.6M295.85 376.0v-3.6M295.85 5.6v3.6M303.70 376.0v-3.6M303.70 5.6v3.6M311.55 376.0v-6.5M311.55 5.6v6.5M319.40 376.0v-3.6M319.40 5.6v3.6M327.25 376.0v-3.6M327.25 5.6v3.6M335.11 376.0v-3.6M335.11 5.6v3.6M342.96 376.0v-3.6M342.96 5.6v3.6M350.81 376.0v-6.5M350.81 5.6v6.5M358.66 376.0v-3.6M358.66 5.6v3.6M366.51 376.0v-3.6M366.51 5.6v3.6M374.37 376.0v-3.6M374.37 5.6v3.6M382.22 376.0v-3.6M382.22 5.6v3.6M390.07 376.0v-6.5M390.07 5.6v6.5M397.92 376.0v-3.6M397.92 5.6v3.6M405.77 376.0v-3.6M405.77 5.6v3.6M413.63 376.0v-3.6M413.63 5.6v3.6M421.48 376.0v-3.6M421.48 5.6v3.6M429.33 376.0v-6.5M429.33 5.6v6.5M437.18 376.0v-3.6M437.18 5.6v3.6M445.03 376.0v-3.6M445.03 5.6v3.6M452.89 376.0v-3.6M452.89 5.6v3.6M460.74 376.0v-3.6M460.74 5.6v3.6M468.59 376.0v-6.5M468.59 5.6v6.5M476.44 376.0v-3.6M476.44 5.6v3.6M484.29 376.0v-3.6M484.29 5.6v3.6M492.15 376.0v-3.6M492.15 5.6v3.6M500.00 376.0v-3.6M500.00 5.6v3.6M507.85 376.0v-6.5M507.85 5.6v6.5M515.70 376.0v-3.6M515.70 5.6v3.6M523.55 376.0v-3.6M523.55 5.6v3.6M531.41 376.0v-3.6M531.41 5.6v3.6M539.26 376.0v-3.6M539.26 5.6v3.6M547.11 376.0v-6.5M547.11 5.6v6.5M554.96 376.0v-3.6M554.96 5.6v3.6M562.81 376.0v-3.6M562.81 5.6v3.6M570.67 376.0v-3.6M570.67 5.6v3.6M578.52 376.0v-3.6M578.52 5.6v3.6M586.37 376.0v-6.5M586.37 5.6v6.5M594.22 376.0v-3.6M594.22 5.6v3.6M84.0 354.24h3.6M598.3 354.24h-3.6M84.0 332.45h6.2M598.3 332.45h-6.2M84.0 310.66h3.6M598.3 310.66h-3.6M84.0 288.87h3.6M598.3 288.87h-3.6M84.0 267.08h3.6M598.3 267.08h-3.6M84.0 245.29h3.6M598.3 245.29h-3.6M84.0 223.50h6.2M598.3 223.50h-6.2M84.0 201.71h3.6M598.3 201.71h-3.6M84.0 179.92h3.6M598.3 179.92h-3.6M84.0 158.13h3.6M598.3 158.13h-3.6M84.0 136.34h3.6M598.3 136.34h-3.6M84.0 114.55h6.2M598.3 114.55h-6.2M84.0 92.76h3.6M598.3 92.76h-3.6M84.0 70.97h3.6M598.3 70.97h-3.6M84.0 49.18h3.6M598.3 49.18h-3.6M84.0 27.39h3.6M598.3 27.39h-3.6" stroke="#1a1a1a" stroke-width="1.5" fill="none"/>
<rect x="84.0" y="5.6" width="514.3" height="370.4" stroke="#1a1a1a" stroke-width="1.55" fill="none"/>
<path d="M136.6 83V93M188.7 83V93M191.0 83V93M193.0 83V93M295.5 83V93M329.6 83V93M379.9 83V93M383.4 83V93M412.4 83V93M423.4 83V93M440.3 83V93M499.2 83V93M359.6 289.9V299.8M368.3 289.9V299.8M402.0 289.9V299.8M412.1 289.9V299.8M454.1 322.6V332.2" stroke="#222" stroke-width="1.5" fill="none"/>
<text x="101.10" y="396.30" font-size="13.4" textLength="28.32" lengthAdjust="spacing">5700</text>
<text x="140.30" y="396.30" font-size="13.4" textLength="28.32" lengthAdjust="spacing">5800</text>
<text x="179.50" y="396.30" font-size="13.4" textLength="28.32" lengthAdjust="spacing">5900</text>
<text x="218.70" y="396.30" font-size="13.4" textLength="28.32" lengthAdjust="spacing">6000</text>
<text x="257.90" y="396.30" font-size="13.4" textLength="28.32" lengthAdjust="spacing">6100</text>
<text x="297.10" y="396.30" font-size="13.4" textLength="28.32" lengthAdjust="spacing">6200</text>
<text x="337.30" y="396.30" font-size="13.4" textLength="27.42" lengthAdjust="spacing">6300</text>
<text x="376.50" y="396.30" font-size="13.4" textLength="27.42" lengthAdjust="spacing">6400</text>
<text x="415.70" y="396.30" font-size="13.4" textLength="27.42" lengthAdjust="spacing">6500</text>
<text x="454.90" y="396.30" font-size="13.4" textLength="27.42" lengthAdjust="spacing">6600</text>
<text x="494.10" y="396.30" font-size="13.4" textLength="27.42" lengthAdjust="spacing">6700</text>
<text x="533.30" y="396.30" font-size="13.4" textLength="27.42" lengthAdjust="spacing">6800</text>
<text x="572.50" y="396.30" font-size="13.4" textLength="29.22" lengthAdjust="spacing">6900</text>
<text x="33.10" y="10.65" font-size="13.4" textLength="42.50" lengthAdjust="spacing">1.0e-11</text>
<text x="32.60" y="119.65" font-size="13.4" textLength="43.97" lengthAdjust="spacing">5.0e-12</text>
<text x="31.80" y="228.40" font-size="13.4" textLength="18.47" lengthAdjust="spacing">0.0</text>
<text x="27.40" y="338.00" font-size="13.4" textLength="48.83" lengthAdjust="spacing">-5.0e-12</text>
<text transform="translate(270.70,426.00) scale(0.9,1)" font-size="14.3" class="b" textLength="155.96" lengthAdjust="spacing">Wavelength (Angstrom)</text>
<text transform="translate(10.60,269.20) rotate(-90) scale(0.9,1)" font-size="14.3" class="b" textLength="173.64" lengthAdjust="spacing">Flux (erg/cm2/s/Angstrom)</text>
<text transform="translate(139.30,74.30) rotate(-90)" font-size="11.3">[N II] 5755</text>
<text transform="translate(187.80,75.30) rotate(-90)" font-size="11.3">Fe I 5887,</text>
<text transform="translate(200.70,75.30) rotate(-90)" font-size="11.3">5893, 5898</text>
<text transform="translate(300.00,75.30) rotate(-90)" font-size="11.3">Fe I 6159</text>
<text transform="translate(334.10,75.30) rotate(-90)" font-size="11.3">Fe I 6246</text>
<text transform="translate(380.05,79.40) rotate(-90)" font-size="11.3">O I 6374</text>
<text transform="translate(388.40,78.40) rotate(-90)" font-size="11.3">Fe II 6383</text>
<text transform="translate(414.40,80.30) rotate(-90)" font-size="11.3">O II 6457</text>
<text transform="translate(430.35,80.30) rotate(-90)" font-size="11.3">O II 6485</text>
<text transform="translate(443.85,79.50) rotate(-90)" font-size="11.3">Fe I 6528</text>
<text transform="translate(502.90,77.40) rotate(-90)" font-size="11.3">He I 6678</text>
<text transform="translate(360.25,347.90) rotate(-90)" font-size="11.3">Fe I 6322</text>
<text transform="translate(371.90,347.90) rotate(-90)" font-size="11.3">Fe I 6344</text>
<text transform="translate(401.10,347.90) rotate(-90)" font-size="11.3">Fe I 6344</text>
<text transform="translate(415.35,353.20) rotate(-90)" font-size="11.3">Fe II 6456</text>
<text transform="translate(460.00,357.60) rotate(-90)" font-size="11.3">Hα</text>
<text x="510.00" y="149.50" font-size="13.6" textLength="44.68" lengthAdjust="spacing"><tspan font-style="italic" font-weight="bold">t</tspan> = 14.8</text>
<text x="511.00" y="202.25" font-size="13.6" textLength="44.86" lengthAdjust="spacing"><tspan font-style="italic" font-weight="bold">t</tspan> = 15.6</text>
<text x="512.00" y="228.35" font-size="13.6" textLength="43.96" lengthAdjust="spacing"><tspan font-style="italic" font-weight="bold">t</tspan> = 17.7</text>
<text x="518.00" y="286.25" font-size="13.6" textLength="43.60" lengthAdjust="spacing"><tspan font-style="italic" font-weight="bold">t</tspan> = 26.7</text>
<text x="516.00" y="355.35" font-size="13.6" textLength="44.32" lengthAdjust="spacing"><tspan font-style="italic" font-weight="bold">t</tspan> = 24.7</text>
</svg></body></html>
